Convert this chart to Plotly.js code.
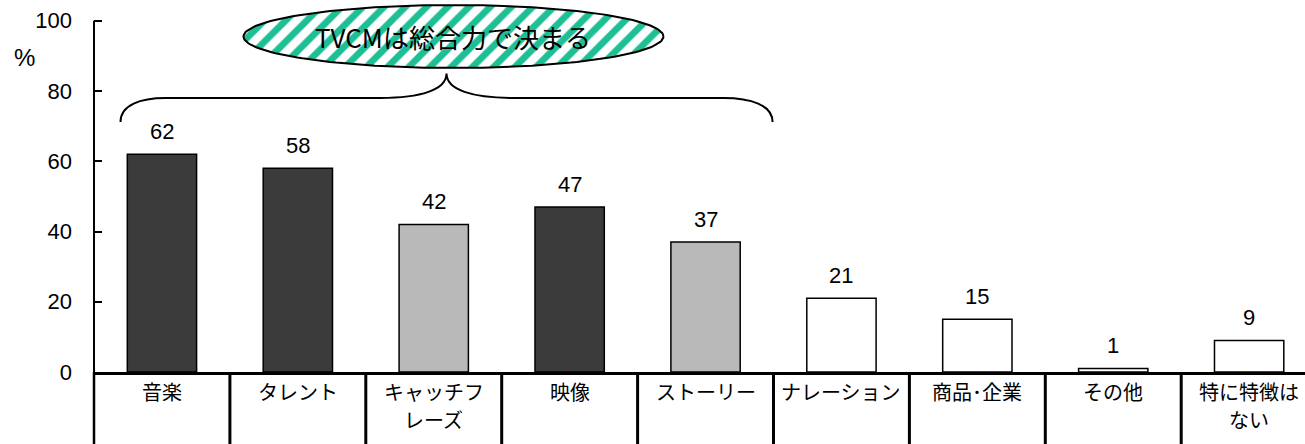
<!DOCTYPE html>
<html>
<head>
<meta charset="utf-8">
<script src="https://cdn.plot.ly/plotly-3.0.1.min.js"></script>
<style>
  html, body { margin: 0; padding: 0; background: #ffffff; }
  #chart { width: 1305px; height: 444px; }
</style>
</head>
<body>
<div id="chart"></div>
<script>
// ---- data ----
const categories = ['音楽', 'タレント', 'キャッチフ<br>レーズ', '映像', 'ストーリー', 'ナレーション', '商品･企業', 'その他', '特に特徴は<br>ない'];
const values = [62, 58, 42, 47, 37, 21, 15, 1, 9];
const yTicks = [0, 20, 40, 60, 80, 100];
const calloutText = 'TVCMは総合力で決まる';
const unitLabel = '%';

// ---- styles ----
const LATIN = '"Liberation Sans", Arial, sans-serif';
const CJK = '"Noto Sans CJK JP", "Liberation Sans", sans-serif';
const tone = ['dark', 'dark', 'light', 'dark', 'light', 'plain', 'plain', 'plain', 'plain'];
const toneColor = { dark: '#3b3b3b', light: '#b9b9b9', plain: '#ffffff' };

const xIdx = categories.map((_, i) => i);
const Y_MAX = 105.92;            // room above 100 for the callout
const X_RANGE = [-0.5, 8.411];   // last column runs past the right edge

const bars = {
  type: 'bar',
  x: xIdx,
  y: values,
  width: 0.51,
  marker: {
    color: tone.map(t => toneColor[t]),
    line: { color: '#000000', width: 1.5 }
  },
  hoverinfo: 'skip',
  showlegend: false
};

// hatched oval callout
const oval = { cx: 2.145, cy: 95.53, rx: 1.545, ry: 8.96 };
const ovalX = [], ovalY = [];
for (let k = 0; k <= 180; k++) {
  const a = 2 * Math.PI * k / 180;
  ovalX.push(oval.cx + oval.rx * Math.cos(a));
  ovalY.push(oval.cy + oval.ry * Math.sin(a));
}
const callout = {
  type: 'scatter',
  mode: 'lines',
  x: ovalX,
  y: ovalY,
  fill: 'toself',
  fillcolor: '#ffffff',
  fillpattern: { shape: '/', fgcolor: '#1fbf95', bgcolor: '#ffffff', size: 15, solidity: 0.45 },
  line: { color: '#000000', width: 2 },
  hoverinfo: 'skip',
  showlegend: false
};

const annotations = [];

// value labels above bars
values.forEach((v, i) => {
  annotations.push({
    x: i, y: v, xref: 'x', yref: 'y',
    text: String(v), showarrow: false,
    yanchor: 'bottom', yshift: 8,
    font: { family: LATIN, size: 22, color: '#000000' }
  });
});

// category labels in the table below the axis
categories.forEach((c, i) => {
  c.split('<br>').forEach((line, j) => {
    annotations.push({
      x: i, y: 0, xref: 'x', yref: 'paper',
      text: line, showarrow: false,
      yanchor: 'middle', yshift: -19 - j * 28.5,
      font: { family: CJK, size: 20, color: '#000000' }
    });
  });
});

// callout text
annotations.push({
  x: oval.cx, y: oval.cy, xref: 'x', yref: 'y',
  text: calloutText, showarrow: false,
  xanchor: 'center', yanchor: 'middle',
  font: { family: CJK, size: 26, color: '#000000' }
});

// unit label
annotations.push({
  x: 0, y: 89.6, xref: 'paper', yref: 'y',
  xshift: -70, xanchor: 'center', yanchor: 'middle',
  text: unitLabel, showarrow: false,
  font: { family: LATIN, size: 24, color: '#000000' }
});

const shapes = [];
// y-axis line (0..100) and its continuation through the table
shapes.push({ type: 'line', xref: 'paper', yref: 'y', x0: 0, x1: 0, y0: 0, y1: 100,
  line: { color: '#000000', width: 2 } });
shapes.push({ type: 'line', xref: 'paper', yref: 'paper', x0: 0, x1: 0, y0: 0, y1: -0.25,
  line: { color: '#000000', width: 2.5 } });
// table column separators
for (let i = 0; i < categories.length; i++) {
  shapes.push({ type: 'line', xref: 'x', yref: 'paper', x0: i + 0.5, x1: i + 0.5, y0: 0, y1: -0.25,
    line: { color: '#000000', width: 3 } });
}
// curly brace grouping the first five columns
shapes.push({
  type: 'path', xref: 'x', yref: 'y',
  path: 'M -0.305,71.2 C -0.305,76.05 -0.158,78.04 0.026,78.04 L 1.608,78.04 ' +
        'C 1.902,78.04 2.094,80.31 2.094,85.0 C 2.094,80.31 2.285,78.04 2.580,78.04 ' +
        'L 4.133,78.04 C 4.331,78.04 4.493,76.05 4.493,71.2',
  line: { color: '#000000', width: 2 }
});

const layout = {
  width: 1305,
  height: 444,
  margin: { l: 94, r: 0, t: 0, b: 72, pad: 0 },
  paper_bgcolor: '#ffffff',
  plot_bgcolor: '#ffffff',
  showlegend: false,
  xaxis: {
    type: 'linear',
    range: X_RANGE,
    showgrid: false,
    zeroline: false,
    showticklabels: false,
    ticks: '',
    showline: true,
    linecolor: '#000000',
    linewidth: 3,
    fixedrange: true
  },
  yaxis: {
    range: [0, Y_MAX],
    tickvals: yTicks,
    ticktext: yTicks.map(String),
    ticks: 'inside',
    ticklen: 8,
    tickwidth: 2,
    tickcolor: '#000000',
    ticklabelstandoff: 21,
    showgrid: false,
    zeroline: false,
    showline: false,
    tickfont: { family: LATIN, size: 22, color: '#000000' },
    fixedrange: true
  },
  annotations: annotations,
  shapes: shapes
};

Plotly.newPlot('chart', [bars, callout], layout, { staticPlot: true, displayModeBar: false });
</script>
</body>
</html>
